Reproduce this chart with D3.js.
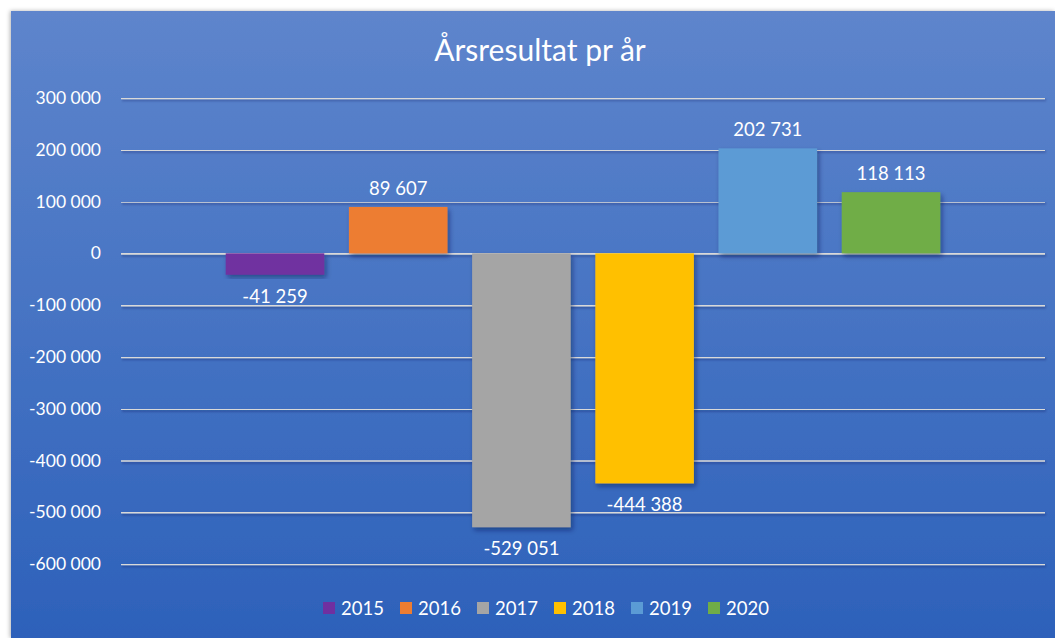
<!DOCTYPE html>
<html>
<head>
<meta charset="utf-8">
<script src="https://cdn.jsdelivr.net/npm/d3@7"></script>
<style>
  body { margin: 0; background: #fff; }
  #chart { width: 1055px; height: 638px; }
  text { font-family: Lato, "Open Sans", sans-serif; }
</style>
</head>
<body>
<div id="chart"></div>
<script>
const years = ["2015", "2016", "2017", "2018", "2019", "2020"];
const results = [-41259, 89607, -529051, -444388, 202731, 118113];
const colors = ["#7030a0", "#ed7d31", "#a5a5a5", "#ffc000", "#5b9bd5", "#70ad47"];
const yTicks = [300000, 200000, 100000, 0, -100000, -200000, -300000, -400000, -500000, -600000];
const title = "Årsresultat pr år";

const W = 1055, H = 638;
const plot = { left: 121, right: 1045, top: 98, bottom: 564 };

const nb = d3.formatLocale({ decimal: ",", thousands: "\u00a0", grouping: [3], currency: ["", ""], minus: "-" });
const fmt = nb.format(",d");

const svg = d3.select("#chart").append("svg")
  .attr("width", W).attr("height", H);

const defs = svg.append("defs");
const grad = defs.append("linearGradient")
  .attr("id", "bg").attr("x1", 0).attr("y1", 0).attr("x2", 0).attr("y2", 1);
grad.append("stop").attr("offset", "0%").attr("stop-color", "#5e85cc");
grad.append("stop").attr("offset", "100%").attr("stop-color", "#2d61ba");

const shadow = defs.append("filter").attr("id", "shadow")
  .attr("x", "-20%").attr("y", "-20%").attr("width", "140%").attr("height", "140%");
shadow.append("feDropShadow")
  .attr("dx", 2).attr("dy", 3).attr("stdDeviation", 2.5)
  .attr("flood-color", "#0a1f4a").attr("flood-opacity", 0.45);

// lines have zero height, so their shadow filter uses user space
const lineShadow = defs.append("filter").attr("id", "lineShadow")
  .attr("filterUnits", "userSpaceOnUse")
  .attr("x", 0).attr("y", 0).attr("width", W).attr("height", H);
lineShadow.append("feDropShadow")
  .attr("dx", 1).attr("dy", 1.5).attr("stdDeviation", 1)
  .attr("flood-color", "#0a1f4a").attr("flood-opacity", 0.4);

const frameShadow = defs.append("filter").attr("id", "frameShadow")
  .attr("x", "-5%").attr("y", "-5%").attr("width", "110%").attr("height", "110%");
frameShadow.append("feDropShadow")
  .attr("dx", -1).attr("dy", 0).attr("stdDeviation", 2)
  .attr("flood-color", "#000").attr("flood-opacity", 0.3);

// background panel
svg.append("rect")
  .attr("x", 11).attr("y", 11)
  .attr("width", W - 11).attr("height", H - 11)
  .attr("fill", "url(#bg)")
  .attr("filter", "url(#frameShadow)");

// -------------------- SCALES --------------------
const y = d3.scaleLinear()
  .domain([-600000, 300000])
  .range([plot.bottom, plot.top]);

const x = d3.scaleBand()
  .domain(years)
  .range([plot.left, plot.right])
  .paddingInner(0.2)
  .paddingOuter(0.85);

// -------------------- GRID --------------------
const yAxis = svg.append("g")
  .attr("transform", `translate(${plot.left},0)`)
  .call(d3.axisLeft(y).tickValues(yTicks).tickFormat(fmt)
    .tickSize(-(plot.right - plot.left)).tickPadding(20));
yAxis.select(".domain").remove();
yAxis.selectAll(".tick line")
  .attr("stroke", "#d9d9d9")
  .attr("stroke-width", 1.6)
  .attr("filter", "url(#lineShadow)");
yAxis.selectAll(".tick text")
  .attr("fill", "#ffffff")
  .style("font-size", "17.5px");

// -------------------- BARS --------------------
const data = years.map((yr, i) => ({ year: yr, value: results[i], color: colors[i] }));

svg.selectAll(".bar")
  .data(data)
  .join("rect")
  .attr("class", "bar")
  .attr("x", d => x(d.year))
  .attr("width", x.bandwidth())
  .attr("y", d => y(Math.max(0, d.value)))
  .attr("height", d => Math.abs(y(d.value) - y(0)))
  .attr("fill", d => d.color)
  .attr("filter", "url(#shadow)");

svg.selectAll(".lbl")
  .data(data)
  .join("text")
  .attr("class", "lbl")
  .attr("x", d => x(d.year) + x.bandwidth() / 2)
  .attr("y", d => d.value >= 0 ? y(d.value) - 12 : y(d.value) + 28)
  .attr("text-anchor", "middle")
  .attr("fill", "#ffffff")
  .style("font-size", "18.5px")
  .text(d => fmt(d.value));

// -------------------- TITLE --------------------
svg.append("text")
  .attr("x", 540).attr("y", 61)
  .attr("text-anchor", "middle")
  .attr("fill", "#ffffff")
  .style("font-size", "30px")
  .text(title);

// -------------------- LEGEND --------------------
const legend = svg.append("g").attr("transform", "translate(323,602)");
const item = legend.selectAll("g")
  .data(data)
  .join("g")
  .attr("transform", (d, i) => `translate(${i * 77},0)`);
item.append("rect")
  .attr("width", 12).attr("height", 12)
  .attr("fill", d => d.color);
item.append("text")
  .attr("x", 18).attr("y", 12.5)
  .attr("fill", "#ffffff")
  .style("font-size", "18.5px")
  .text(d => d.year);
</script>
</body>
</html>
